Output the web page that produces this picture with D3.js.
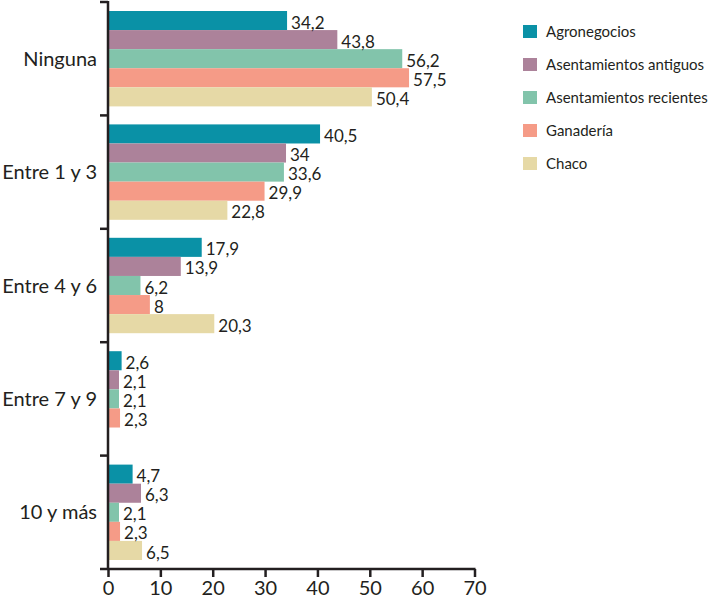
<!DOCTYPE html>
<html><head><meta charset="utf-8">
<script src="https://cdn.jsdelivr.net/npm/d3@7"></script>
<style>body{margin:0;background:#fff}svg{display:block}text{font-family:Lato,"Open Sans",sans-serif;fill:#231f20}</style>
</head><body><svg id="c" width="708" height="604"></svg>
<script>
const categories = ["Ninguna","Entre 1 y 3","Entre 4 y 6","Entre 7 y 9","10 y más"];
const series = ["Agronegocios","Asentamientos antiguos","Asentamientos recientes","Ganadería","Chaco"];
const colors = ["#0a91a6","#ac829a","#82c4ab","#f59b87","#e6d9a6"];
const agronegocios = [34.2,40.5,17.9,2.6,4.7];
const antiguos = [43.8,34,13.9,2.1,6.3];
const recientes = [56.2,33.6,6.2,2.1,2.1];
const ganaderia = [57.5,29.9,8,2.3,2.3];
const chaco = [50.4,22.8,20.3,null,6.5];
const xTicks = [0,10,20,30,40,50,60,70];
const values = [agronegocios,antiguos,recientes,ganaderia,chaco];

const svg = d3.select("#c");
const x = d3.scaleLinear().domain([0,70]).range([108,474.5]);
const y = d3.scaleBand().domain(categories).range([2,569]).padding(0);
const yi = d3.scaleBand().domain(series).range([9, y.bandwidth()-9]).padding(0);
const fmt = v => String(v).replace(".", ",");

const data = [];
categories.forEach((c,ci)=>series.forEach((s,si)=>{
  const v = values[si][ci];
  if (v !== null) data.push({c, s, si, v});
}));

const g = svg.append("g");
g.selectAll("rect").data(data).join("rect")
  .attr("x", x(0)).attr("y", d=>y(d.c)+yi(d.s))
  .attr("width", d=>x(d.v)-x(0)).attr("height", yi.bandwidth())
  .attr("fill", d=>colors[d.si]);
g.selectAll("text.v").data(data).join("text").attr("class","v")
  .attr("x", d=>x(d.v)+4).attr("y", d=>y(d.c)+yi(d.s)+yi.bandwidth()-1.5)
  .attr("font-size", 17).text(d=>fmt(d.v));

// x axis
const xa = svg.append("g").attr("transform","translate(0,569)")
  .call(d3.axisBottom(x).tickValues(xTicks).tickSize(8).tickSizeOuter(0).tickFormat(d=>d));
xa.select(".domain").remove();
xa.selectAll("line").attr("stroke","#231f20").attr("stroke-width",2.5);
xa.selectAll("text").attr("font-size",20).attr("y",12).attr("font-family","Lato,sans-serif").attr("fill","#231f20");
svg.append("line").attr("x1",100).attr("x2",x(70)+1).attr("y1",569).attr("y2",569)
  .attr("stroke","#231f20").attr("stroke-width",2.5);

// y axis
svg.append("line").attr("x1",x(0)).attr("x2",x(0)).attr("y1",y.range()[0]-1).attr("y2",570)
  .attr("stroke","#231f20").attr("stroke-width",2.5);
const bounds = categories.map(c=>y(c));
svg.selectAll("line.yt").data(bounds).join("line").attr("class","yt")
  .attr("x1",100).attr("x2",x(0)).attr("y1",d=>d).attr("y2",d=>d)
  .attr("stroke","#231f20").attr("stroke-width",2.5);
svg.selectAll("text.cat").data(categories).join("text").attr("class","cat")
  .attr("x",97).attr("y",d=>y(d)+y.bandwidth()/2).attr("dy","0.35em")
  .attr("text-anchor","end").attr("font-size",20).text(d=>d);

// legend
const lg = svg.append("g").attr("transform","translate(523,25)");
const li = lg.selectAll("g").data(series).join("g").attr("transform",(d,i)=>`translate(0,${i*33})`);
li.append("rect").attr("width",14).attr("height",13).attr("fill",(d,i)=>colors[i]);
li.append("text").attr("x",23).attr("y",6.5).attr("dy","0.35em").attr("font-size",15).text(d=>d);
</script></body></html>
